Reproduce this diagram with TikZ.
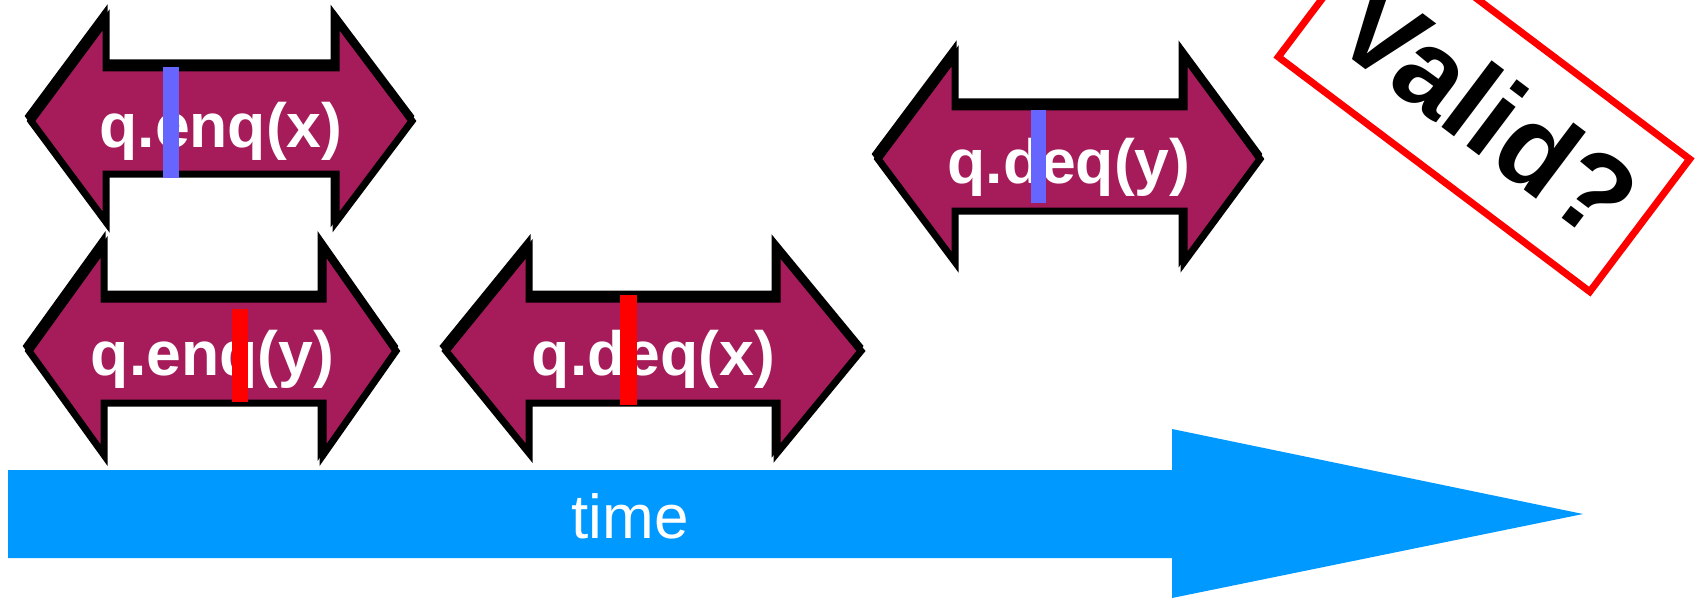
\documentclass[tikz,border=0pt]{standalone}
\usepackage{fontspec}
\setmainfont{Liberation Sans}
\definecolor{plum}{HTML}{A61C5B}
\definecolor{timeblue}{HTML}{0099FF}
\definecolor{barblue}{HTML}{6666FF}
\tikzset{
  shadowarrow/.style={fill=black, draw=black, line width=7pt, line join=miter},
  mainarrow/.style={fill=plum, draw=black, line width=7pt, line join=miter},
  oplabel/.style={text=white, font=\fontsize{62.5}{70}\selectfont\bfseries, anchor=base, inner sep=0pt},
  bluebar/.style={fill=barblue, draw=none},
  redbar/.style={fill=red, draw=none},
  timearrow/.style={fill=timeblue, draw=none},
  timelabel/.style={text=white, font=\fontsize{62}{70}\selectfont, anchor=base, inner sep=0pt},
  validbox/.style={draw=red, line width=7pt, minimum width=390pt, minimum height=166pt, rotate=-37, inner sep=0pt},
  validtext/.style={rotate=-37, inner sep=0pt, font=\fontsize{115}{120}\selectfont\bfseries}
}
% #1 left tip x, #2 left head x, #3 right head x, #4 right tip x, #5 centre y, #6 head half height, #7 shaft half height
\newcommand\opArrow[7]{%
  \path[shadowarrow, shift={(-2,-5)}] (#1,#5) -- (#2,{#5-#6}) -- (#2,{#5-#7}) -- (#3,{#5-#7}) -- (#3,{#5-#6}) -- (#4,#5) -- (#3,{#5+#6}) -- (#3,{#5+#7}) -- (#2,{#5+#7}) -- (#2,{#5+#6}) -- cycle;
  \path[mainarrow] (#1,#5) -- (#2,{#5-#6}) -- (#2,{#5-#7}) -- (#3,{#5-#7}) -- (#3,{#5-#6}) -- (#4,#5) -- (#3,{#5+#6}) -- (#3,{#5+#7}) -- (#2,{#5+#7}) -- (#2,{#5+#6}) -- cycle;
}
\begin{document}
\begin{tikzpicture}[x=1pt, y=-1pt]
\useasboundingbox (0,0) rectangle (1699,599);
\clip (0,0) rectangle (1699,599);
\fill[white] (0,0) rectangle (1699,599);

% time arrow
\path[timearrow] (8,470) -- (1172,470) -- (1172,429) -- (1583,514) -- (1172,598) -- (1172,558) -- (8,558) -- cycle;
\node[timelabel] (time) at (630,538) {time};

% operation arrows
\opArrow{31}{106}{336}{412}{121}{101}{53}
\node[oplabel] (enqx) at (221,147) {q.enq(x)};
\fill[bluebar] (163,67) rectangle (179,178);

\opArrow{29}{104}{323}{396}{351}{104}{52}
\node[oplabel] (enqy) at (212.5,375) {q.enq(y)};
\fill[redbar] (232,309) rectangle (248,402);

\opArrow{446}{529}{777}{861}{351}{102}{52}
\node[oplabel] (deqx) at (653.5,375) {q.deq(x)};
\fill[redbar] (620,295) rectangle (637,405);

\opArrow{878}{955}{1184}{1260}{159}{103}{52}
\node[oplabel] (deqy) at (1069,183) {q.deq(y)};
\fill[bluebar] (1031,110) rectangle (1046,203);

% Valid? box
\node[validbox] (valid) at (1484,108) {};
\node[validtext] (validlabel) at (1488,111) {Valid?};
\end{tikzpicture}
\end{document}
